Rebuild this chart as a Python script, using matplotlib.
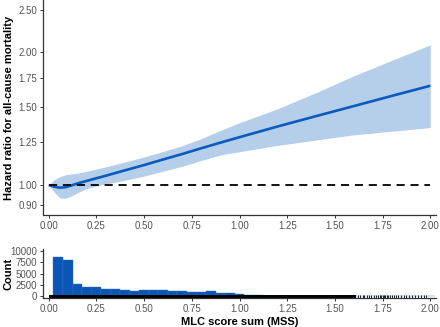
import numpy as np
import matplotlib
matplotlib.use("Agg")
import matplotlib.pyplot as plt
from matplotlib.ticker import FixedLocator, NullLocator, FormatStrFormatter

plt.rcParams['font.family'] = ['Liberation Sans', 'DejaVu Sans']

# spline fit: hazard ratio with 95% CI
mss = [0, 0.03, 0.06, 0.09, 0.12, 0.15, 0.2, 0.25, 0.3, 0.4, 0.5, 0.6, 0.7,
       0.8, 0.9, 1.0, 1.2, 1.4, 1.6, 1.8, 2.0]
hr = [1.000, 0.991, 0.986, 0.989, 0.998, 1.008, 1.022, 1.036, 1.050, 1.080,
      1.110, 1.143, 1.176, 1.212, 1.248, 1.284, 1.358, 1.433, 1.511, 1.594, 1.680]
hr_upper = [1.000, 1.028, 1.046, 1.055, 1.060, 1.064, 1.075, 1.087, 1.100, 1.128,
            1.158, 1.192, 1.228, 1.275, 1.330, 1.385, 1.490, 1.620, 1.770, 1.920, 2.080]
hr_lower = [1.000, 0.962, 0.934, 0.934, 0.945, 0.960, 0.982, 0.996, 1.006, 1.025,
            1.048, 1.075, 1.103, 1.137, 1.170, 1.190, 1.230, 1.265, 1.300, 1.325, 1.350]

# histogram of MSS, bin width 0.05
bin_width = 0.05
counts = [8550, 8100, 2650, 1900, 1900, 1500, 1500, 1450, 1150, 1300,
          1300, 1250, 1050, 1100, 900, 900, 1100, 750, 600, 400,
          200, 150, 120, 100, 90, 80, 70, 60, 50, 40,
          30, 20, 15, 10, 10, 8, 6, 5, 4, 3]
bin_centers = [round(bin_width * (i + 1), 2) for i in range(len(counts))]

# rug: dense part as a span, then single observations
rug_dense = (0.0, 1.61)
rug_sparse = [1.62, 1.63, 1.645, 1.655, 1.67, 1.68, 1.69, 1.705, 1.715, 1.725,
              1.735, 1.74, 1.75, 1.755, 1.765, 1.775, 1.78, 1.79, 1.80, 1.81,
              1.82, 1.83, 1.845, 1.86, 1.875, 1.89, 1.905, 1.92, 1.935, 1.95,
              1.965, 1.98]

x_ticks = [0, 0.25, 0.5, 0.75, 1.0, 1.25, 1.5, 1.75, 2.0]
hr_ticks = [0.9, 1.0, 1.25, 1.5, 1.75, 2.0, 2.5]
count_ticks = [0, 2500, 5000, 7500, 10000]

line_col = '#0A5BBF'
band_col = '#B5CFEA'
bar_col = '#0B55B5'
axis_col = '#333333'
tick_col = '#555555'

fig = plt.figure(figsize=(4.4, 3.27), dpi=100)
W, H = 440, 327
left, right = 43, 436

ax1 = fig.add_axes([left / W, 1 - 215 / H, (right - left) / W, 215 / H])
ax2 = fig.add_axes([left / W, 1 - 298.3 / H, (right - left) / W, (298.3 - 248.7) / H])

ax1.fill_between(mss, hr_lower, hr_upper, color=band_col, lw=0)
ax1.plot(mss, hr, color=line_col, lw=1.9, solid_capstyle='butt')
ax1.hlines(1.0, 0, 2, colors='black', linestyles=(0, (4.5, 3.2)), lw=1.3)
ax1.set_yscale('log')
ax1.set_ylim(0.855, 2.63)
ax1.yaxis.set_major_locator(FixedLocator(hr_ticks))
ax1.yaxis.set_minor_locator(NullLocator())
ax1.yaxis.set_major_formatter(FormatStrFormatter('%.2f'))
ax1.set_ylabel('Hazard ratio for all-cause mortality', fontsize=8, fontweight='bold')

ax2.bar(bin_centers, counts, width=bin_width, color=bar_col, edgecolor='#2f6fc4', lw=0.3)
ax2.axvspan(rug_dense[0], rug_dense[1], ymin=0, ymax=0.07, color='black', lw=0)
ax2.vlines(rug_sparse, 0, 0.07, colors='black', lw=0.6,
           transform=ax2.get_xaxis_transform())
ax2.set_ylim(-500, 10500)
ax2.set_yticks(count_ticks)
ax2.set_ylabel('Count', fontsize=8, fontweight='bold')
ax2.set_xlabel('MLC score sum (MSS)', fontsize=8, fontweight='bold', labelpad=2)

for ax in (ax1, ax2):
    ax.set_xlim(-0.03, 2.03)
    ax.set_xticks(x_ticks)
    ax.xaxis.set_major_formatter(FormatStrFormatter('%.2f'))
    for s in ('top', 'right'):
        ax.spines[s].set_visible(False)
    for s in ('left', 'bottom'):
        ax.spines[s].set_color(axis_col)
        ax.spines[s].set_linewidth(0.9)
    ax.tick_params(axis='both', length=2.5, width=0.7, color=axis_col,
                   labelcolor=tick_col, labelsize=7, pad=1.5)
    # right edge of the rotated label sits ~13 px from the figure edge
    ax.yaxis.set_label_coords(-0.074, 0.5)

fig.savefig('out.png', dpi=100)
